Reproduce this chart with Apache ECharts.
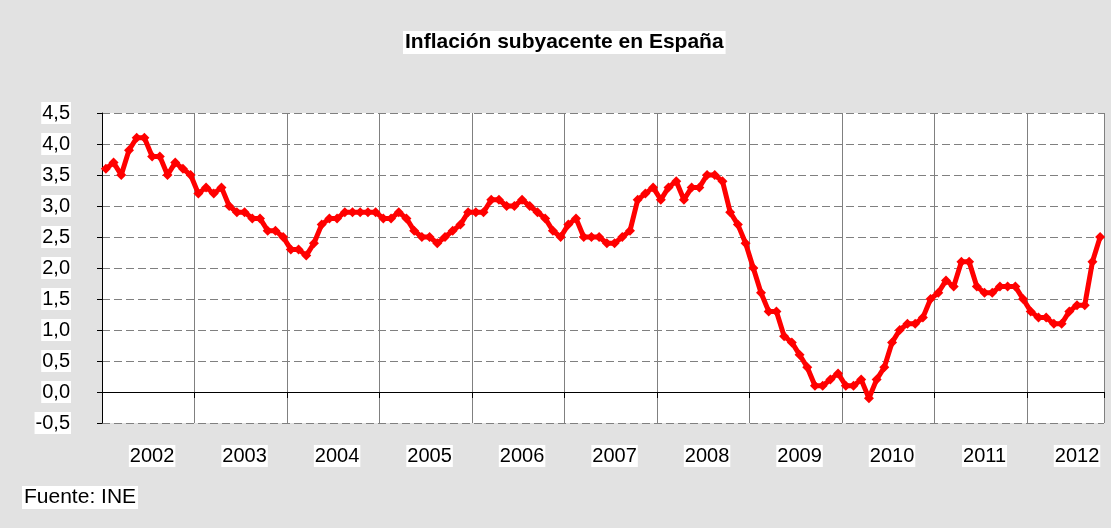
<!DOCTYPE html>
<html>
<head>
<meta charset="utf-8">
<script src="https://cdn.jsdelivr.net/npm/echarts@6/dist/echarts.min.js"></script>
<style>
html,body{margin:0;padding:0;background:#e2e2e2;}
#chart{width:1111px;height:528px;}
</style>
</head>
<body>
<div id="chart"></div>
<script>
const years = ['2002','2003','2004','2005','2006','2007','2008','2009','2010','2011','2012'];
const v2002 = [3.6, 3.7, 3.5, 3.9, 4.1, 4.1, 3.8, 3.8, 3.5, 3.7, 3.6, 3.5];
const v2003 = [3.2, 3.3, 3.2, 3.3, 3.0, 2.9, 2.9, 2.8, 2.8, 2.6, 2.6, 2.5];
const v2004 = [2.3, 2.3, 2.2, 2.4, 2.7, 2.8, 2.8, 2.9, 2.9, 2.9, 2.9, 2.9];
const v2005 = [2.8, 2.8, 2.9, 2.8, 2.6, 2.5, 2.5, 2.4, 2.5, 2.6, 2.7, 2.9];
const v2006 = [2.9, 2.9, 3.1, 3.1, 3.0, 3.0, 3.1, 3.0, 2.9, 2.8, 2.6, 2.5];
const v2007 = [2.7, 2.8, 2.5, 2.5, 2.5, 2.4, 2.4, 2.5, 2.6, 3.1, 3.2, 3.3];
const v2008 = [3.1, 3.3, 3.4, 3.1, 3.3, 3.3, 3.5, 3.5, 3.4, 2.9, 2.7, 2.4];
const v2009 = [2.0, 1.6, 1.3, 1.3, 0.9, 0.8, 0.6, 0.4, 0.1, 0.1, 0.2, 0.3];
const v2010 = [0.1, 0.1, 0.2, -0.1, 0.2, 0.4, 0.8, 1.0, 1.1, 1.1, 1.2, 1.5];
const v2011 = [1.6, 1.8, 1.7, 2.1, 2.1, 1.7, 1.6, 1.6, 1.7, 1.7, 1.7, 1.5];
const v2012 = [1.3, 1.2, 1.2, 1.1, 1.1, 1.3, 1.4, 1.4, 2.1, 2.5];
const yearValues = [v2002, v2003, v2004, v2005, v2006, v2007, v2008, v2009, v2010, v2011, v2012];

const titleText = 'Inflación subyacente en España';
const sourceText = 'Fuente: INE';

const months = [];
const values = [];
yearValues.forEach((arr, yi) => {
  arr.forEach((v, mi) => {
    months.push(years[yi] + '-' + String(mi + 1).padStart(2, '0'));
    values.push(v);
  });
});

const FONT = '"Liberation Sans", Arial, sans-serif';
const chart = echarts.init(document.getElementById('chart'), null, {renderer: 'canvas'});
chart.setOption({
  animation: false,
  backgroundColor: '#e2e2e2',
  title: [
    {
      text: titleText,
      left: 403, top: 31,
      padding: [1, 2],
      backgroundColor: '#fff',
      textStyle: {fontFamily: FONT, fontSize: 21, fontWeight: 'bold', color: '#000'}
    },
    {
      text: sourceText,
      left: 22, top: 486,
      padding: [1, 2],
      backgroundColor: '#fff',
      textStyle: {fontFamily: FONT, fontSize: 21, fontWeight: 'normal', color: '#000'}
    }
  ],
  grid: {
    left: 102, right: 7, top: 113, bottom: 105,
    show: true, backgroundColor: '#fff', borderWidth: 0
  },
  xAxis: {
    type: 'category',
    data: months,
    boundaryGap: true,
    axisLine: {onZero: true, lineStyle: {color: '#000', width: 1}},
    axisTick: {show: true, interval: (i) => i % 12 === 0, length: 6, lineStyle: {color: '#000'}},
    splitLine: {show: true, interval: (i) => i % 12 === 0, lineStyle: {color: '#808080', width: 1}},
    axisLabel: {
      interval: (i) => i % 12 === 6,
      formatter: (v) => v.slice(0, 4),
      margin: 22,
      fontFamily: FONT, fontSize: 20, color: '#000',
      backgroundColor: '#fff', padding: [1, 1]
    }
  },
  yAxis: {
    type: 'value',
    min: -0.5, max: 4.5, interval: 0.5,
    axisLine: {show: true, lineStyle: {color: '#000', width: 1}},
    axisTick: {show: true, length: 5, lineStyle: {color: '#000'}},
    splitLine: {show: true, lineStyle: {color: '#808080', width: 1, type: [8, 4]}},
    axisLabel: {
      formatter: (v) => v.toFixed(1).replace('.', ','),
      margin: 31,
      fontFamily: FONT, fontSize: 20, color: '#000',
      backgroundColor: '#fff', padding: [1, 1]
    }
  },
  series: [{
    type: 'line',
    data: values,
    symbol: 'diamond',
    symbolSize: 10,
    showSymbol: true,
    showAllSymbol: true,
    lineStyle: {color: '#ff0000', width: 5},
    itemStyle: {color: '#ff0000'},
    z: 5
  }]
});
</script>
</body>
</html>
